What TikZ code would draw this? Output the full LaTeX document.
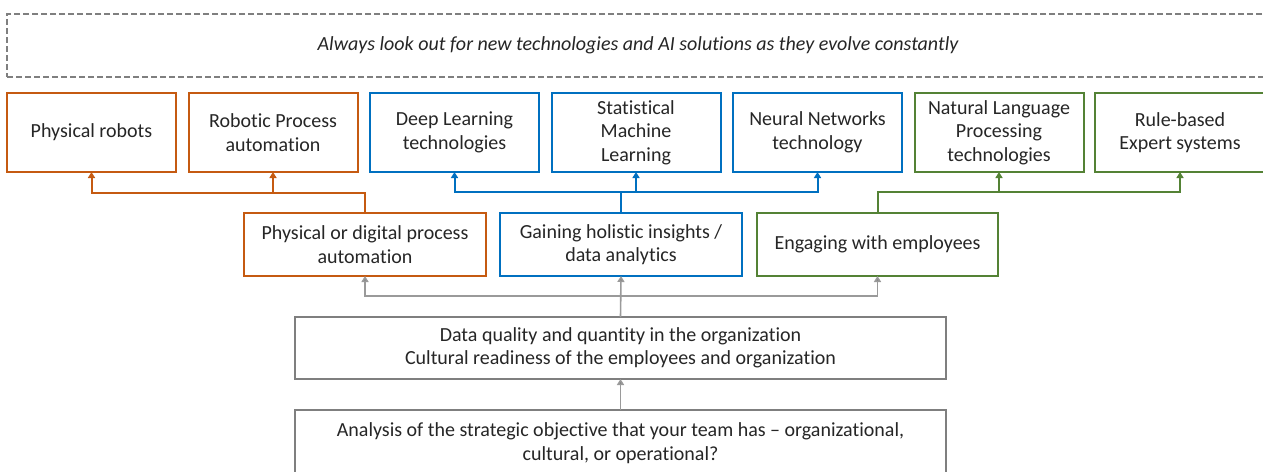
\documentclass[tikz,border=0pt]{standalone}
\usepackage{fontspec}
\setmainfont{Carlito}[Ligatures={NoCommon}]
\usetikzlibrary{arrows.meta}
\definecolor{aiorange}{HTML}{C55A11}
\definecolor{aiblue}{HTML}{0070C0}
\definecolor{aigreen}{HTML}{548235}
\definecolor{aigray}{HTML}{7F7F7F}
\definecolor{ailine}{HTML}{9A9A9A}
\definecolor{aitext}{HTML}{262626}
\begin{document}
\begin{tikzpicture}[x=1pt,y=-1pt,
  base/.style={draw, line width=2pt, inner sep=0pt, outer sep=0pt, align=center,
    text=aitext, font=\fontsize{20}{23.5}\selectfont},
  tech/.style={base, minimum width=169pt, minimum height=79pt},
  area/.style={base, minimum width=242pt, minimum height=63pt},
  found/.style={base, draw=aigray, minimum width=651pt},
  hint/.style={draw=aigray, dashed, dash pattern=on 6pt off 3pt, line width=1.5pt,
    inner sep=0pt, minimum width=1262pt, minimum height=63pt, text=aitext,
    font=\fontsize{20}{23.5}\selectfont\itshape},
  orangelink/.style={-{Triangle[length=6pt,width=7pt,fill=aiorange]}, draw=aiorange, line width=2pt},
  bluelink/.style={-{Triangle[length=6pt,width=7pt,fill=aiblue]}, draw=aiblue, line width=2pt},
  greenlink/.style={-{Triangle[length=6pt,width=7pt,fill=aigreen]}, draw=aigreen, line width=2pt},
  graylink/.style={-{Triangle[length=6pt,width=7pt,fill=aigray]}, draw=ailine, line width=1.6pt}
]
\useasboundingbox[fill=white] (0,0) rectangle (1263,471);

% banner
\node[hint] (watch) at (638,45.5) {Always look out for new technologies and AI solutions as they evolve constantly};

% technologies
\node[tech, draw=aiorange] (robots) at (91.5,132.5) {Physical robots};
\node[tech, draw=aiorange] (rpa) at (273,132.5) {Robotic Process\\automation};
\node[tech, draw=aiblue] (deep) at (454.5,132.5) {Deep Learning\\technologies};
\node[tech, draw=aiblue] (stat) at (636,132.5) {Statistical\\Machine\\Learning};
\node[tech, draw=aiblue] (neural) at (817.5,132.5) {Neural Networks\\technology};
\node[tech, draw=aigreen] (nlp) at (999,132.5) {Natural Language\\Processing\\technologies};
\node[tech, draw=aigreen, minimum width=170pt] (rules) at (1180,132.5) {Rule-based\\Expert systems};

% application areas
\node[area, draw=aiorange] (automation) at (365,244.5) {Physical or digital process\\automation};
\node[area, draw=aiblue] (insights) at (621,244.5) {Gaining holistic insights /\\data analytics};
\node[area, draw=aigreen, minimum width=241pt] (engage) at (877.5,244.5) {Engaging with employees};

% foundations
\node[found, minimum height=62pt] (data) at (620.5,348) {Data quality and quantity in the organization\\Cultural readiness of the employees and organization};
\node[found, minimum height=66pt] (analysis) at (620.5,443) {Analysis of the strategic objective that your team has -- organizational,\\cultural, or operational?};

% links from areas to technologies
\draw[orangelink] (automation.north) -- ++(0,-20) -| (robots.south);
\draw[orangelink] (automation.north) -- ++(0,-20) -| (rpa.south);
\draw[bluelink] (insights.north) -- ++(0,-21) -| (deep.south);
\draw[bluelink] (insights.north) -- ++(0,-21) -| (stat.south);
\draw[bluelink] (insights.north) -- ++(0,-21) -| (neural.south);
\draw[greenlink] (engage.north) -- ++(0,-21) -| (nlp.south);
\draw[greenlink] (engage.north) -- ++(0,-21) -| (rules.south);

% links from foundations to areas
\draw[graylink] (data.north) -- ++(0,-21) -| (automation.south);
\draw[graylink] (data.north) -- ++(0,-21) -| (engage.south);
\draw[graylink] (data.north) -- (insights.south);
\draw[graylink] (analysis.north) -- (data.south);
\end{tikzpicture}
\end{document}
